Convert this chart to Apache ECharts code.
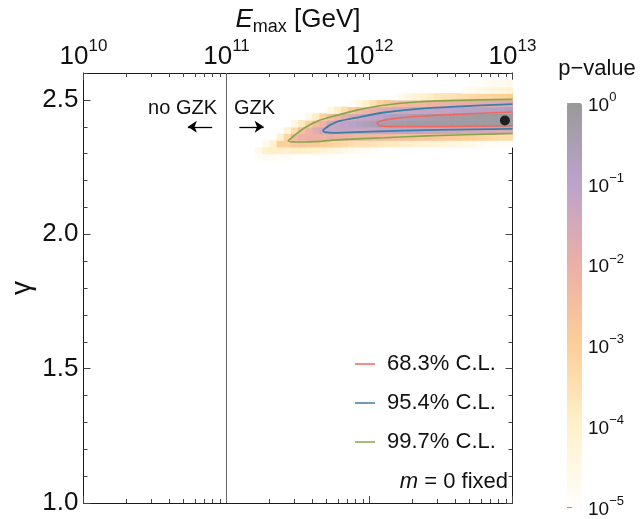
<!DOCTYPE html>
<html><head><meta charset="utf-8">
<script src="https://cdn.jsdelivr.net/npm/echarts@6/dist/echarts.min.js"></script>
<style>html,body{margin:0;padding:0;background:#fff}#c{width:641px;height:519px}</style>
</head><body><div id="c"></div>
<script>
// ---- data (x values are log10 of E_max / GeV) ----
const logEmaxCells = [11.225,11.275,11.325,11.375,11.425,11.475,11.525,11.575,11.625,11.675,11.725,11.775,11.825,11.875,11.925,11.975,12.025,12.075,12.125,12.175,12.225,12.275,12.325,12.375,12.425,12.475,12.525,12.575,12.625,12.675,12.725,12.775,12.825,12.875,12.925,12.975];
const gammaCells = [2.2875,2.3125,2.3375,2.3625,2.3875,2.4125,2.4375,2.4625,2.4875,2.5125,2.5375,2.5625];
// log10(p-value) per gamma row: [first column index, values...]
const log10pRows = [
  [0, [-4.9,-4.85,-4.85,-4.9,-4.95]],
  [0, [-4.6,-4.0,-3.95,-3.95,-4.0,-3.9,-3.9,-4.0,-4.05,-4.2,-4.3,-4.4,-4.5,-4.7,-4.8,-4.8,-4.9]],
  [1, [-4.7,-4.05,-3.0,-3.05,-2.8,-2.75,-2.85,-2.9,-3.0,-3.1,-3.2,-3.3,-3.45,-3.5,-3.55,-3.6,-3.7,-3.75,-3.8,-3.9,-3.95,-4.0,-4.1,-4.15,-4.2,-4.3,-4.4,-4.45,-4.5,-4.65,-4.75,-4.9,-4.85,-4.9,-4.9]],
  [3, [-4.05,-3.2,-2.35,-2.05,-2.05,-2.05,-2.05,-1.95,-2.05,-2.1,-2.2,-2.25,-2.3,-2.35,-2.4,-2.45,-2.5,-2.55,-2.6,-2.65,-2.7,-2.75,-2.8,-2.85,-2.9,-2.95,-3.0,-3.05,-3.15,-3.2,-3.25,-3.35,-3.4]],
  [4, [-4.25,-3.35,-2.5,-2.15,-1.75,-1.35,-1.2,-1.2,-1.2,-1.2,-1.2,-1.2,-1.2,-1.15,-1.15,-1.15,-1.15,-1.2,-1.2,-1.25,-1.3,-1.35,-1.37,-1.43,-1.43,-1.5,-1.5,-1.5,-1.55,-1.55,-1.65,-1.65]],
  [5, [-4.55,-3.8,-3.05,-2.4,-2.05,-1.45,-1.25,-1.1,-0.95,-0.8,-0.65,-0.55,-0.45,-0.4,-0.35,-0.3,-0.27,-0.24,-0.22,-0.2,-0.19,-0.18,-0.17,-0.16,-0.16,-0.15,-0.15,-0.14,-0.14,-0.14,-0.14]],
  [7, [-4.55,-3.85,-3.1,-2.5,-2.15,-1.85,-1.6,-1.35,-1.2,-1.1,-0.95,-0.8,-0.7,-0.65,-0.57,-0.48,-0.42,-0.38,-0.34,-0.3,-0.27,-0.24,-0.21,-0.19,-0.16,-0.14,-0.12,-0.1,-0.08]],
  [10, [-4.5,-3.95,-3.4,-2.8,-2.4,-2.15,-1.95,-1.75,-1.6,-1.5,-1.4,-1.3,-1.25,-1.2,-1.15,-1.1,-1.05,-1.0,-0.95,-0.92,-0.9,-0.86,-0.83,-0.8,-0.75,-0.72]],
  [13, [-4.95,-4.5,-4.0,-3.55,-3.15,-2.85,-2.55,-2.45,-2.35,-2.3,-2.25,-2.2,-2.1,-2.05,-2.0,-1.95,-1.93,-1.87,-1.8,-1.78,-1.7,-1.65,-1.57]],
  [19, [-4.95,-4.7,-4.45,-4.2,-4.0,-3.9,-3.7,-3.6,-3.55,-3.45,-3.4,-3.3,-3.2,-3.2,-3.1,-3.1,-3.0]],
  [29, [-4.85,-4.75,-4.6,-4.5,-4.35,-4.3,-4.2]],
  [30, [-4.95,-4.9,-4.85,-4.8,-4.75,-4.7]]
];
const contour683 = [[13.0,2.455],[12.6,2.446],[12.35,2.439],[12.2,2.432],[12.09,2.423],[12.052,2.414],[12.07,2.404],[12.15,2.401],[12.5,2.401],[13.0,2.404]];
const contour954 = [[13.0,2.484],[12.6,2.475],[12.3,2.465],[12.1,2.453],[11.9,2.433],[11.78,2.42],[11.72,2.405],[11.685,2.392],[11.675,2.386],[11.69,2.38],[11.75,2.377],[12.0,2.382],[12.47,2.388],[13.0,2.392]];
const contour997 = [[13.0,2.502],[12.6,2.498],[12.35,2.493],[12.1,2.48],[11.9,2.46],[11.75,2.44],[11.65,2.424],[11.55,2.397],[11.48,2.37],[11.44,2.352],[11.432,2.348],[11.45,2.344],[11.55,2.343],[11.8,2.352],[12.1,2.359],[12.4,2.366],[12.8,2.372],[13.0,2.375]];
const bestFit = [12.947, 2.423];
const gzkExponent = 11;
const xTickExponents = [10, 11, 12, 13];
const xMinorFactors = [2, 3, 4, 5, 6, 7, 8, 9];
const yTickLabels = [1.0, 1.5, 2.0, 2.5];
const yMinorTicks = [1.1,1.2,1.3,1.4,1.6,1.7,1.8,1.9,2.1,2.2,2.3,2.4,2.6];
const colorbarExponents = [-5, -4, -3, -2, -1, 0];
const legendNames = ['68.3% C.L.', '95.4% C.L.', '99.7% C.L.'];

// ---- build ----
const FONT = '"Liberation Sans", Arial, Helvetica, sans-serif';
const heatData = [];
log10pRows.forEach((row, r) => {
  const start = row[0];
  row[1].forEach((v, k) => heatData.push([logEmaxCells[start + k], gammaCells[r], v]));
});
const halfW = (logEmaxCells[1] - logEmaxCells[0]) / 2;
const halfH = (gammaCells[1] - gammaCells[0]) / 2;
const xMinor = [];
xTickExponents.slice(0, -1).forEach(d => xMinorFactors.forEach(k => xMinor.push(d + Math.log10(k))));

const RED = '#f0695f', BLUE = '#3b7ea6', GREEN = '#85a64a';
const supRich = {
  b: {fontSize: 26, lineHeight: 32, verticalAlign: 'bottom', fontFamily: FONT, color: '#111'},
  s: {fontSize: 17, lineHeight: 16, verticalAlign: 'top', fontFamily: FONT, color: '#111'}
};
const cbRich = {
  b: {fontSize: 19, lineHeight: 24, verticalAlign: 'bottom', fontFamily: FONT, color: '#111'},
  s: {fontSize: 13, lineHeight: 12, verticalAlign: 'top', fontFamily: FONT, color: '#111'}
};
const AX = '#1a1a1a', TK = '#444';
function xa(pos, ticks, len, line, label) {
  return {
    gridIndex: 0, type: 'value', min: 10, max: 13, position: pos,
    axisLine: {show: line, lineStyle: {color: AX, width: 1}},
    axisTick: {show: true, inside: true, length: len, customValues: ticks, lineStyle: {color: TK}},
    axisLabel: label ? {show: true, customValues: xTickExponents, margin: 3,
      formatter: v => '{b|10}{s|' + v + '}', rich: supRich} : {show: false},
    splitLine: {show: false}
  };
}
function ya(pos, ticks, len, line, label) {
  return {
    gridIndex: 0, type: 'value', min: 1, max: 2.6, position: pos,
    axisLine: {show: line, lineStyle: {color: AX, width: 1}},
    axisTick: {show: true, inside: true, length: len, customValues: ticks, lineStyle: {color: TK}},
    axisLabel: label ? {show: true, customValues: yTickLabels, margin: 5,
      formatter: v => v.toFixed(1), fontSize: 26, fontFamily: FONT, color: '#111'} : {show: false},
    splitLine: {show: false}
  };
}
const xTop = xa('top', xTickExponents, 7, true, true);
xTop.name = '{e|E}{s|max}{n| [GeV]}';
xTop.nameLocation = 'middle';
xTop.nameGap = 25;
xTop.nameMoveOverlap = false;
xTop.nameTextStyle = {rich: {
  e: {fontSize: 26, fontStyle: 'italic', lineHeight: 26, verticalAlign: 'top', fontFamily: FONT, color: '#111'},
  s: {fontSize: 18, lineHeight: 41, fontFamily: FONT, color: '#111'},
  n: {fontSize: 26, lineHeight: 26, verticalAlign: 'top', fontFamily: FONT, color: '#111'}
}};
const yLeft = ya('left', yTickLabels, 7, true, true);
yLeft.name = 'γ';
yLeft.nameLocation = 'middle';
yLeft.nameGap = 47;
yLeft.nameMoveOverlap = false;
yLeft.nameTextStyle = {fontSize: 28, fontFamily: FONT, color: '#111'};

const option = {
  animation: false,
  backgroundColor: '#fff',
  grid: [
    {left: 83.5, top: 73, width: 429, height: 430, containLabel: false, outerBoundsMode: 'none'},
    {left: 567, top: 103, width: 15, height: 404, containLabel: false, outerBoundsMode: 'none'}
  ],
  xAxis: [
    xTop,
    xa('top', xMinor, 4, false, false),
    xa('bottom', xTickExponents, 7, true, false),
    xa('bottom', xMinor, 4, false, false),
    {gridIndex: 1, type: 'value', min: 0, max: 1, show: false}
  ],
  yAxis: [
    yLeft,
    ya('left', yMinorTicks, 4, false, false),
    ya('right', yTickLabels, 7, true, false),
    ya('right', yMinorTicks, 4, false, false),
    {gridIndex: 1, type: 'value', min: -5, max: 0, interval: 1, position: 'right',
     axisLine: {show: false},
     axisTick: {show: true, length: 5, lineStyle: {color: '#999'}},
     axisLabel: {show: true, margin: 6,
       formatter: v => '{b|10}{s|' + (v === 0 ? '0' : '\u2212' + (-v)) + '}', rich: cbRich},
     splitLine: {show: false}}
  ],
  visualMap: {
    type: 'continuous', min: -5, max: 0, dimension: 2, seriesIndex: 0,
    calculable: false, hoverLink: false, show: true,
    left: 567, top: 103, itemWidth: 15, itemHeight: 404, padding: 0,
    inRange: {color: ['#fffefb', '#fff1cc', '#fdcf99', '#ecafa6', '#bba3cb', '#9a9a9a']}
  },
  legend: {
    data: legendNames, orient: 'vertical', left: 350, top: 347,
    icon: 'rect', itemWidth: 20, itemHeight: 1.5, itemGap: 15, selectedMode: false,
    textStyle: {fontSize: 22, lineHeight: 24, fontFamily: FONT, color: '#111', padding: [0, 0, 0, 7]}
  },
  graphic: [
    {type: 'text', x: 597, y: 69, silent: true,
     style: {text: 'p\u2212value', font: '22px ' + FONT, fill: '#111', align: 'center', verticalAlign: 'middle', textAlign: 'center', textVerticalAlign: 'middle'}},
    {type: 'text', x: 217, y: 108, silent: true,
     style: {text: 'no GZK', font: '20px ' + FONT, fill: '#111', align: 'right', verticalAlign: 'middle', textAlign: 'right', textVerticalAlign: 'middle'}},
    {type: 'text', x: 234, y: 108, silent: true,
     style: {text: 'GZK', font: '20px ' + FONT, fill: '#111', align: 'left', verticalAlign: 'middle', textAlign: 'left', textVerticalAlign: 'middle'}},
    {type: 'text', x: 508, y: 482, silent: true,
     style: {text: '{i|m} = 0 fixed', font: '22px ' + FONT, fill: '#111', align: 'right', verticalAlign: 'middle', textAlign: 'right', textVerticalAlign: 'middle',
       rich: {i: {fontStyle: 'italic', fontSize: 22, fontFamily: FONT, fill: '#111'}}}}
  ],
  series: [
    {type: 'custom', name: 'p-value', xAxisIndex: 0, yAxisIndex: 0, data: heatData, silent: true, z: 1,
     encode: {x: 0, y: 1},
     renderItem: (params, api) => {
       const x = api.value(0), y = api.value(1);
       const p0 = api.coord([x - halfW, y + halfH]);
       const p1 = api.coord([x + halfW, y - halfH]);
       return {type: 'rect', shape: {x: p0[0], y: p0[1], width: p1[0] - p0[0] + 0.6, height: p1[1] - p0[1] + 0.6},
               style: {fill: api.visual('color')}};
     }},
    {type: 'line', name: legendNames[2], data: contour997, symbol: 'none', smooth: 0.25, silent: true, z: 3,
     lineStyle: {color: GREEN, width: 1.6}, itemStyle: {color: GREEN}},
    {type: 'line', name: legendNames[1], data: contour954, symbol: 'none', smooth: 0.25, silent: true, z: 3,
     lineStyle: {color: BLUE, width: 1.8}, itemStyle: {color: BLUE}},
    {type: 'line', name: legendNames[0], data: contour683, symbol: 'none', smooth: 0.25, silent: true, z: 3,
     lineStyle: {color: RED, width: 1.6}, itemStyle: {color: RED}},
    {type: 'scatter', name: 'best fit', data: [bestFit], symbolSize: 10, silent: true, z: 5,
     itemStyle: {color: '#000'},
     markLine: {silent: true, symbol: 'none', label: {show: false}, animation: false,
       lineStyle: {color: '#666', width: 1, type: 'solid'},
       data: [{xAxis: gzkExponent}]}},
    {type: 'line', name: 'arrows', data: [], silent: true, z: 4,
     markLine: {silent: true, symbol: ['none', 'arrow'], symbolSize: 9, label: {show: false}, animation: false,
       lineStyle: {color: '#000', width: 1.3, type: 'solid'},
       data: [
         [{coord: [gzkExponent - 0.1, 2.4]}, {coord: [gzkExponent - 0.27, 2.4]}],
         [{coord: [gzkExponent + 0.09, 2.4]}, {coord: [gzkExponent + 0.26, 2.4]}]
       ]}}
  ]
};
const chart = echarts.init(document.getElementById('c'), null, {renderer: 'canvas'});
chart.setOption(option);
</script>
</body></html>
